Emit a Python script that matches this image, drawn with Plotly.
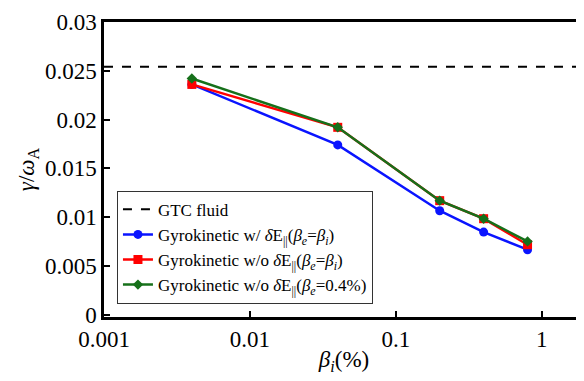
import plotly.graph_objects as go

beta_i = [0.004, 0.04, 0.2, 0.4, 0.8]
gk_with_dE = [0.0236, 0.0174, 0.01065, 0.00846, 0.00665]
gk_without_dE = [0.0236, 0.0192, 0.01168, 0.00983, 0.00716]
gk_without_dE_be04 = [0.0242, 0.0192, 0.01168, 0.00983, 0.0075]
gtc_fluid = 0.0254
x_span = [0.001, 1.95]

FONT = "Times New Roman, Liberation Serif, serif"

fig = go.Figure()
fig.add_trace(go.Scatter(
    x=x_span, y=[gtc_fluid, gtc_fluid], mode="lines",
    line=dict(color="black", width=2, dash="dash"),
    name="GTC fluid"))
fig.add_trace(go.Scatter(
    x=beta_i, y=gk_with_dE, mode="lines+markers",
    line=dict(color="#0a14ff", width=2.5),
    marker=dict(symbol="circle", size=9, color="#0a14ff"),
    name="Gyrokinetic w/ <i>δ</i>E<sub>||</sub>(<i>β<sub>e</sub></i>=<i>β<sub>i</sub></i>)"))
fig.add_trace(go.Scatter(
    x=beta_i, y=gk_without_dE, mode="lines+markers",
    line=dict(color="#ff0000", width=2.5),
    marker=dict(symbol="square", size=9, color="#ff0000"),
    name="Gyrokinetic w/o <i>δ</i>E<sub>||</sub>(<i>β<sub>e</sub></i>=<i>β<sub>i</sub></i>)"))
fig.add_trace(go.Scatter(
    x=beta_i, y=gk_without_dE_be04, mode="lines+markers",
    line=dict(color="#16701a", width=2.5),
    marker=dict(symbol="diamond", size=8, color="#16701a"),
    name="Gyrokinetic w/o <i>δ</i>E<sub>||</sub>(<i>β<sub>e</sub></i>=0.4%)"))

fig.update_layout(
    width=576, height=373,
    margin=dict(l=96, r=0, t=14, b=64),
    paper_bgcolor="white", plot_bgcolor="white",
    font=dict(family=FONT, color="black"),
    showlegend=True,
    legend=dict(x=0.027, y=0.045, xanchor="left", yanchor="bottom",
                bordercolor="#333333", borderwidth=1, bgcolor="white",
                font=dict(size=17, family=FONT), tracegroupgap=0,
                itemwidth=30),
    xaxis=dict(type="log", range=[-3, 0.29],
               tickvals=[0.001, 0.01, 0.1, 1], ticktext=["0.001", "0.01", "0.1", "1"],
               ticks="inside", ticklen=6, tickwidth=1.5, tickcolor="black",
               showline=True, linewidth=2.5, linecolor="black", mirror=True,
               showgrid=False, zeroline=False,
               tickfont=dict(size=23, family=FONT),
               title=dict(text="<i>β<sub>i</sub></i>(%)", font=dict(size=23, family=FONT), standoff=0)),
    yaxis=dict(range=[-0.00025, 0.03],
               tickvals=[0, 0.005, 0.01, 0.015, 0.02, 0.025, 0.03],
               ticktext=["0", "0.005", "0.01", "0.015", "0.02", "0.025", "0.03"],
               ticks="inside", ticklen=6, tickwidth=1.5, tickcolor="black",
               showline=True, linewidth=2.5, linecolor="black",
               showgrid=False, zeroline=False,
               tickfont=dict(size=23, family=FONT),
               title=dict(text="<i>γ</i>/<i>ω</i><sub>A</sub>", font=dict(size=23, family=FONT), standoff=4)),
)

fig.write_html("out.html")
